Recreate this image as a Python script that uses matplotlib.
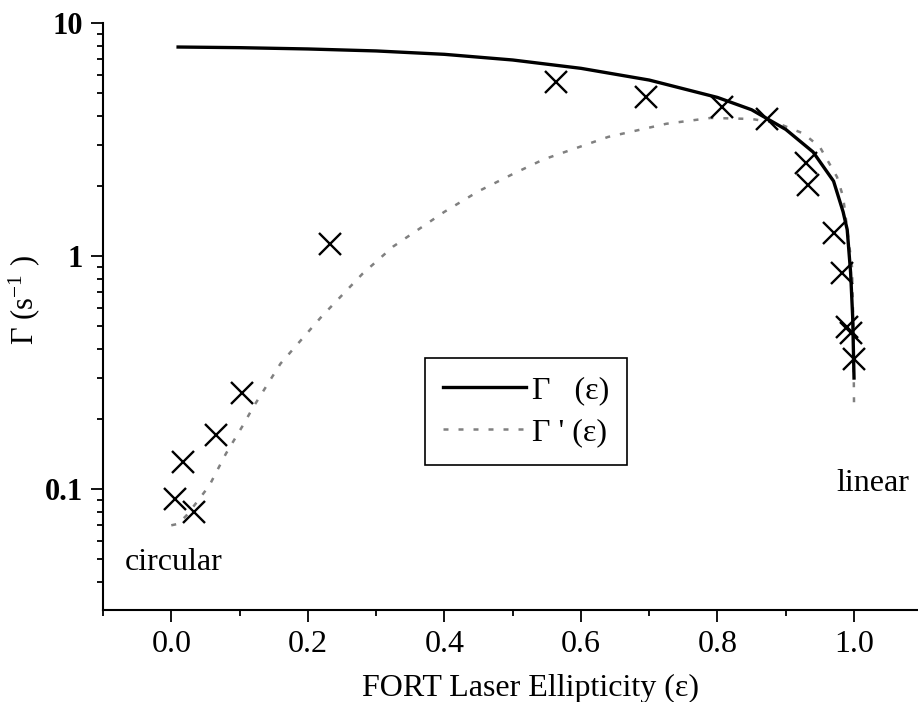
import matplotlib
matplotlib.use("Agg")
import matplotlib.pyplot as plt
from matplotlib.ticker import FixedLocator, FixedFormatter, LogLocator, MultipleLocator, NullFormatter

plt.rcParams['font.family'] = ['Liberation Serif', 'DejaVu Serif']
plt.rcParams['mathtext.fontset'] = 'stix'

# measured rates (crosses)
eps_data = [0.006, 0.034, 0.017, 0.066, 0.103, 0.232, 0.564, 0.695, 0.807,
            0.872, 0.930, 0.932, 0.970, 0.983, 0.989, 0.995, 1.000]
rate_data = [0.091, 0.080, 0.131, 0.171, 0.259, 1.13, 5.6, 4.80, 4.37,
             3.86, 2.51, 2.02, 1.26, 0.843, 0.497, 0.469, 0.361]

# Gamma(eps) curve
eps_g = [0.01, 0.1, 0.2, 0.3, 0.4, 0.5, 0.6, 0.7, 0.8, 0.85, 0.9, 0.94,
         0.97, 0.984, 0.99, 0.995, 0.998, 1.0]
rate_g = [7.9, 7.85, 7.75, 7.6, 7.35, 6.95, 6.4, 5.7, 4.8, 4.25, 3.5, 2.8,
          2.1, 1.55, 1.3, 0.85, 0.55, 0.3]

# Gamma'(eps) curve
eps_gp = [0.0, 0.01, 0.022, 0.04, 0.056, 0.08, 0.105, 0.12, 0.16, 0.22, 0.28,
          0.325, 0.4, 0.45, 0.5, 0.545, 0.64, 0.725, 0.79, 0.85, 0.887, 0.926,
          0.95, 0.975, 0.984, 0.997, 0.999, 1.0]
rate_gp = [0.070, 0.071, 0.077, 0.09, 0.104, 0.142, 0.188, 0.225, 0.346, 0.55,
           0.84, 1.1, 1.55, 1.9, 2.25, 2.6, 3.25, 3.7, 3.92, 3.88, 3.73, 3.36,
           2.94, 2.19, 1.8, 0.9, 0.5, 0.23]

fig = plt.figure(figsize=(9.18, 7.02), dpi=100)
ax = fig.add_axes([0.1122, 0.131, 0.8878, 0.836])

ax.plot(eps_g, rate_g, color='black', lw=2.4, label='Γ   (ε)', zorder=3)
ax.plot(eps_gp, rate_gp, color='#808080', lw=1.8, dashes=(2, 4),
        label="Γ ' (ε)", zorder=2)
ax.plot(eps_data, rate_data, linestyle='none', marker='x', color='black',
        markersize=16, markeredgewidth=1.7, zorder=4)

ax.set_yscale('log')
ax.set_xlim(-0.1, 1.0937)
ax.set_ylim(0.0303, 10)

for s in ['top', 'right']:
    ax.spines[s].set_visible(False)
for s in ['left', 'bottom']:
    ax.spines[s].set_linewidth(1.5)

ax.xaxis.set_major_locator(FixedLocator([0.0, 0.2, 0.4, 0.6, 0.8, 1.0]))
ax.xaxis.set_major_formatter(FixedFormatter(['0.0', '0.2', '0.4', '0.6', '0.8', '1.0']))
ax.xaxis.set_minor_locator(MultipleLocator(0.1))
ax.yaxis.set_major_locator(FixedLocator([0.1, 1, 10]))
ax.yaxis.set_major_formatter(FixedFormatter(['0.1', '1', '10']))
ax.yaxis.set_minor_locator(LogLocator(base=10, subs=[2, 3, 4, 5, 6, 7, 8, 9]))
ax.yaxis.set_minor_formatter(NullFormatter())

ax.tick_params(axis='both', which='major', direction='out', length=8.5, width=1.3)
ax.tick_params(axis='both', which='minor', direction='out', length=4.5, width=1.3)
ax.tick_params(axis='x', which='major', pad=6, labelsize=23)
ax.tick_params(axis='y', which='major', pad=6, labelsize=22)
for lbl in ax.get_yticklabels():
    lbl.set_fontweight('bold')

ax.set_xlabel('FORT Laser Ellipticity (ε)', fontsize=23)
ax.xaxis.set_label_coords(0.525, -0.108)
ax.set_ylabel('Γ (s$^{\\mathregular{-1}}$ )', fontsize=22)
ax.yaxis.set_label_coords(-0.074, 0.528)

ax.text(0.004, 0.0486, 'circular', fontsize=23, ha='center', va='center')
ax.text(1.028, 0.106, 'linear', fontsize=23, ha='center', va='center')

leg = ax.legend(loc='upper left', bbox_to_anchor=(425 / 918, 1 - 358 / 702),
                bbox_transform=fig.transFigure, borderaxespad=0, fontsize=23,
                frameon=True, fancybox=False, edgecolor='black', framealpha=1,
                handlelength=2.6, borderpad=0.55, labelspacing=0.4, handletextpad=0.2)
leg.get_frame().set_linewidth(1.2)

fig.savefig('out.png', dpi=100)
